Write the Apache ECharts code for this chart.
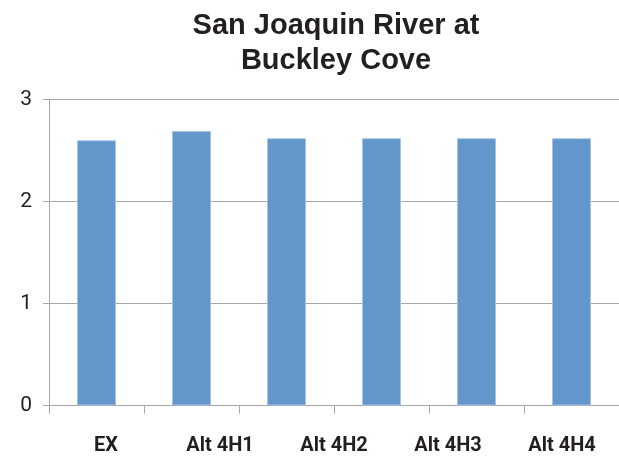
<!DOCTYPE html>
<html>
<head>
<meta charset="utf-8">
<script src="https://cdn.jsdelivr.net/npm/echarts@6/dist/echarts.min.js"></script>
<style>
html,body{margin:0;padding:0;background:#fff;}
#chart{width:619px;height:461px;}
</style>
</head>
<body>
<div id="chart"></div>
<script>
const titleText = 'San Joaquin River at\nBuckley Cove';
const categoryLabels = ['EX', 'Alt 4H1', 'Alt 4H2', 'Alt 4H3', 'Alt 4H4'];
const barSlots = ['b1', 'b2', 'b3', 'b4', 'b5', 'b6'];
const barValues = [2.60, 2.69, 2.62, 2.62, 2.62, 2.62];
const yTicks = [0, 1, 2, 3];

const chart = echarts.init(document.getElementById('chart'), null, {renderer: 'canvas'});
const axisGray = '#a6a6a6';
const textColor = '#231f20';

chart.setOption({
  animation: false,
  backgroundColor: '#ffffff',
  title: {
    text: titleText,
    left: 336,
    top: 8,
    padding: 0,
    textAlign: 'center',
    textStyle: {
      fontFamily: 'Liberation Sans',
      fontWeight: 'bold',
      fontSize: 29,
      lineHeight: 35,
      color: textColor
    }
  },
  grid: {
    left: 49,
    top: 99.5,
    width: 574,
    bottom: 55.5,
    containLabel: false
  },
  xAxis: [
    {
      type: 'category',
      data: barSlots,
      position: 'bottom',
      boundaryGap: true,
      axisLine: {show: true, lineStyle: {color: axisGray, width: 1}},
      axisTick: {show: true, length: 8, lineStyle: {color: axisGray, width: 1}},
      axisLabel: {show: false},
      splitLine: {show: false}
    },
    {
      type: 'category',
      data: categoryLabels,
      position: 'bottom',
      boundaryGap: true,
      axisLine: {show: false},
      axisTick: {show: false},
      splitLine: {show: false},
      axisLabel: {
        show: true,
        interval: 0,
        margin: 30,
        fontFamily: 'Roboto',
        fontWeight: 'bold',
        fontSize: 20,
        color: textColor
      }
    }
  ],
  yAxis: {
    type: 'value',
    min: yTicks[0],
    max: yTicks[yTicks.length - 1],
    interval: 1,
    axisLine: {show: true, lineStyle: {color: axisGray, width: 1}},
    axisTick: {show: true, length: 6, lineStyle: {color: axisGray, width: 1}},
    splitLine: {show: true, lineStyle: {color: axisGray, width: 1}},
    axisLabel: {
      margin: 17,
      fontFamily: 'Roboto',
      fontSize: 21,
      color: textColor,
      formatter: function (v) { return String(v); }
    }
  },
  series: [{
    type: 'bar',
    xAxisIndex: 0,
    data: barValues,
    barWidth: 39,
    itemStyle: {
      color: '#6396ca',
      borderColor: '#a7c3e3',
      borderWidth: 1
    }
  }]
});
</script>
</body>
</html>
